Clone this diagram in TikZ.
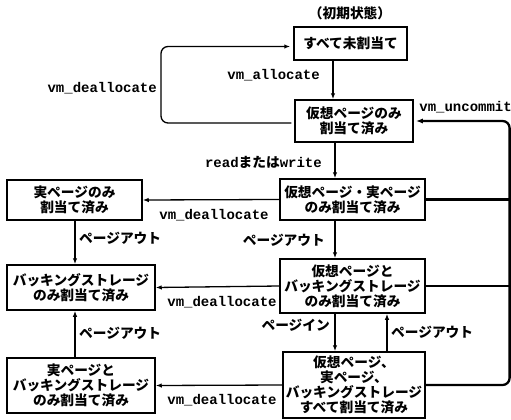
\documentclass[tikz,border=0pt]{standalone}
\usepackage{fontspec}
\usetikzlibrary{arrows.meta,calc}
\newfontfamily\jpfam{Noto Sans CJK JP}
\newfontfamily\monofam{Liberation Mono}
\newcommand\jpf{\jpfam\bfseries\fontsize{13.7}{15}\selectfont}
\newcommand\mof{\monofam\bfseries\fontsize{14}{15}\selectfont}
\begin{document}
\begin{tikzpicture}[x=1pt,y=-1pt,
  box/.style={draw, line width=1.5pt, inner sep=0pt, align=center, font=\jpf},
  arr/.style={line width=1.3pt, -{Latex[length=6pt,width=4.5pt]}},
  bus/.style={line width=2.3pt},
  lab/.style={inner sep=0pt, font=\jpf},
  mlab/.style={inner sep=0pt, font=\mof}]
\useasboundingbox (0,0) rectangle (511,420);
% boxes
\node[box, minimum width=113pt, minimum height=33pt] (A) at (350.5,43.5) {すべて未割当て};
\node[box, minimum width=118pt, minimum height=42pt] (B) at (354,121) {仮想ページのみ\\割当て済み};
\node[box, minimum width=145pt, minimum height=41pt] (C) at (352.5,199.5) {仮想ページ・実ページ\\のみ割当て済み};
\node[box, minimum width=145pt, minimum height=54pt] (D) at (352.5,286) {仮想ページと\\バッキングストレージ\\のみ割当て済み};
\node[box, minimum width=142pt, minimum height=66pt] (E) at (354,385) {仮想ページ、\\実ページ、\\バッキングストレージ\\すべて割当て済み};
\node[box, minimum width=135pt, minimum height=40pt] (F) at (74.5,200) {実ページのみ\\割当て済み};
\node[box, minimum width=148pt, minimum height=45pt] (G) at (81,287.5) {バッキングストレージ\\のみ割当て済み};
\node[box, minimum width=148pt, minimum height=55pt] (H) at (81,385.5) {実ページと\\バッキングストレージ\\のみ割当て済み};
% helper coordinates
\coordinate (colA) at (333,0);
\coordinate (colB) at (335,0);
\coordinate (colU) at (387,0);
\coordinate (colL) at (75,0);
\coordinate (loopx) at (161,0);
\coordinate (busx) at (509.6,0);
% labels
\node[lab] (init) at (350,13) {（初期状態）};
\node[mlab, anchor=east] (lalloc) at (320,75) {vm\_allocate};
\node[mlab, anchor=east] (ldealloc1) at (157,88) {vm\_deallocate};
\node[inner sep=0pt, anchor=east] (lrw) at (322,162) {{\mof read}{\jpf または}{\mof write}};
\node[mlab] (ldealloc2) at (214,215) {vm\_deallocate};
\node[lab, anchor=east] (lpo1) at (325,240) {ページアウト};
\node[lab, anchor=west] (lpo2) at (79,238) {ページアウト};
\node[mlab] (ldealloc3) at (222,302) {vm\_deallocate};
\node[lab, anchor=east] (lpi) at (330,325) {ページイン};
\node[lab, anchor=west] (lpo3) at (391,332) {ページアウト};
\node[lab, anchor=west] (lpo4) at (79,333) {ページアウト};
\node[mlab] (ldealloc4) at (222,400) {vm\_deallocate};
\node[mlab, anchor=east] (lunc) at (512,107) {vm\_uncommit};
% vertical arrows
\draw[arr] (A.south -| colA) -- (B.north -| colA);
\draw[arr] (B.south -| colB) -- (C.north -| colB);
\draw[arr] (C.south -| colB) -- (D.north -| colB);
\draw[arr] (D.south -| colB) -- (E.north -| colB);
\draw[arr] (E.north -| colU) -- (D.south -| colU);
\draw[arr] (F.south -| colL) -- (G.north -| colL);
\draw[arr] (H.north -| colL) -- (G.south -| colL);
% horizontal arrows
\draw[arr] (C.west) -- (F.east);
\draw[arr] (D.west) -- (G.east);
\draw[arr] (E.west) -- (H.east);
% dealloc loop
\draw[arr, rounded corners=7pt, shorten <=3pt, shorten >=3pt]
  ([yshift=-2pt]B.west) -- ([yshift=-2pt]loopx |- B.west) -- ([yshift=-3pt]loopx |- A.west) -- ([yshift=-3pt]A.west);
% uncommit bus
\draw[bus] (C.east) -- (busx |- C.east);
\draw[bus] (D.east) -- (busx |- D.east);
\draw[bus, rounded corners=7pt, -{Latex[length=7pt,width=5pt]}, shorten >=2pt]
  (E.east) -- (busx |- E.east) -- (busx |- B.east) -- (B.east);
\end{tikzpicture}
\end{document}
